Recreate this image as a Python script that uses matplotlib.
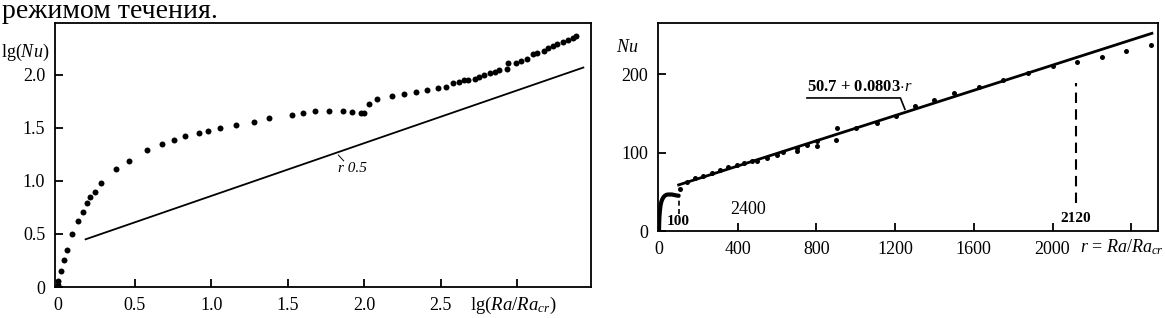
import numpy as np
import matplotlib
matplotlib.use('Agg')
import matplotlib.pyplot as plt

plt.rcParams['font.family'] = ['Liberation Serif', 'DejaVu Serif']
plt.rcParams['mathtext.fontset'] = 'custom'
plt.rcParams['mathtext.rm'] = 'Liberation Serif'
plt.rcParams['mathtext.it'] = 'Liberation Serif:italic'
plt.rcParams['mathtext.bf'] = 'Liberation Serif:bold'

# left panel: lg(Nu) vs lg(Ra/Ra_cr)
lg_r = [0, 0, 0.02, 0.04, 0.06, 0.09, 0.13, 0.16, 0.19, 0.21,
        0.24, 0.28, 0.38, 0.46, 0.58, 0.68, 0.76, 0.83, 0.92, 0.98,
        1.06, 1.16, 1.28, 1.38, 1.53, 1.60, 1.68, 1.77, 1.86, 1.92,
        1.98, 2.00, 2.03, 2.08, 2.18, 2.26, 2.34, 2.41, 2.48, 2.53,
        2.58, 2.62, 2.65, 2.68, 2.72, 2.75, 2.78, 2.82, 2.85, 2.88,
        2.93, 2.94, 2.99, 3.02, 3.06, 3.10, 3.13, 3.17, 3.20, 3.23,
        3.26, 3.30, 3.33, 3.36, 3.38]
lg_nu = [0.02, 0.06, 0.15, 0.25, 0.35, 0.50, 0.62, 0.71, 0.79, 0.85,
         0.90, 0.98, 1.11, 1.19, 1.29, 1.35, 1.39, 1.42, 1.45, 1.47,
         1.50, 1.53, 1.56, 1.59, 1.62, 1.64, 1.66, 1.66, 1.66, 1.65,
         1.64, 1.64, 1.73, 1.77, 1.80, 1.82, 1.84, 1.86, 1.88, 1.89,
         1.92, 1.93, 1.95, 1.95, 1.96, 1.98, 2.00, 2.02, 2.03, 2.05,
         2.06, 2.11, 2.11, 2.13, 2.15, 2.20, 2.21, 2.23, 2.25, 2.27,
         2.29, 2.31, 2.33, 2.35, 2.37]
sqrt_line_x = [0.18, 3.43]
sqrt_line_y = [0.45, 2.07]

# right panel: Nu vs r
r_low = [0, 1, 2, 4, 6, 9, 13, 18, 24, 30, 37, 45, 55, 65, 75, 85, 95, 100]
nu_low = [0, 10, 17, 24, 29, 34, 38, 41, 43.5, 45, 46, 46.5, 46.5, 46.5, 46, 45.5, 45, 45]
r_pts = [107, 144, 183, 225, 268, 310, 349, 395, 432, 471, 496, 547, 598, 629,
         700, 700, 750, 801, 801, 899, 903, 1001, 1106, 1204, 1301, 1399, 1499,
         1624, 1749, 1876, 2000, 2125, 2249, 2373, 2500]
nu_pts = [54, 63, 67, 70, 74, 78, 81, 84, 86, 89, 89, 93.5, 96.5, 100.6,
          102.5, 106, 109.5, 108, 114.6, 116, 131.6, 131.6, 138, 146.6, 159, 167, 175.4,
          184, 192.4, 201, 210, 215, 222, 229, 237]
fit_a, fit_b = 50.7, 0.0803
fit_r = [100, 2505]

fig = plt.figure(figsize=(11.65, 3.18), dpi=100)

fig.text(0.002, 1 - 18 / 318, 'режимом течения.', fontsize=20, va='baseline', ha='left')

# ---- left
ax1 = fig.add_axes([55 / 1165, 31 / 318, 536 / 1165, 264 / 318])
ax1.plot(lg_r, lg_nu, 'o', color='black', markersize=4.3, markeredgewidth=0)
ax1.plot(sqrt_line_x, sqrt_line_y, color='black', lw=1.3)
ax1.plot([1.83, 1.865], [1.245, 1.19], color='black', lw=0.7)
ax1.text(1.83, 1.12, 'r 0.5', style='italic', fontsize=11, va='center', ha='left')
ax1.set_xlim(-0.02, 3.48)
ax1.set_ylim(0, 2.49)
ax1.set_xticks([0, 0.5, 1.0, 1.5, 2.0, 2.5, 3.0])
ax1.set_xticklabels(['0', '0.5', '1.0', '1.5', '2.0', '2.5', ''])
ax1.set_yticks([0, 0.5, 1.0, 1.5, 2.0])
ax1.set_yticklabels(['0', '0.5', '1.0', '1.5', '2.0'])
ax1.tick_params(direction='in', length=6, width=1.3, labelsize=13, pad=7)
ax1.text(-0.1, 0.89, r'lg$(Nu)$', transform=ax1.transAxes, fontsize=13,
         ha='left', va='center')
ax1.text(0.775, -0.07, r'lg$(Ra/Ra_{cr})$', transform=ax1.transAxes, fontsize=13.5,
         ha='left', va='center')

# ---- right
ax2 = fig.add_axes([658 / 1165, 87 / 318, 500 / 1165, 208 / 318])
ax2.plot(r_low, nu_low, color='black', lw=3, solid_capstyle='round')
ax2.plot(r_pts, nu_pts, 'o', color='black', markersize=3.6, markeredgewidth=0)
ax2.plot(fit_r, [fit_a + fit_b * v for v in fit_r], color='black', lw=2)
ax2.plot([100, 100], [22, 43], color='black', lw=1.2, ls=(0, (3, 2)))
ax2.plot([2120, 2120], [36, 189], color='black', lw=1.5, ls=(0, (5, 3)))
ax2.text(100, 12, '100', fontweight='bold', fontsize=11, ha='center', va='center')
ax2.text(2120, 16, '2120', fontweight='bold', fontsize=11, ha='center', va='center')
ax2.text(452, 28, '2400', fontsize=13, ha='center', va='center')
ax2.plot([752, 1227, 1250], [169.5, 169.5, 155], color='black', lw=1.2)
ax2.text(752, 173, r'50.7 + 0.0803$\cdot r$', fontweight='bold', fontsize=12,
         ha='left', va='bottom')
ax2.set_xlim(-5, 2536)
ax2.set_ylim(0, 265)
ax2.set_xticks([0, 400, 800, 1200, 1600, 2000, 2400])
ax2.set_xticklabels(['0', '400', '800', '1200', '1600', '2000', ''])
ax2.set_yticks([0, 100, 200])
ax2.set_yticklabels(['0', '100', '200'])
ax2.tick_params(direction='in', length=6, width=1.3, labelsize=13, pad=7)
ax2.text(-0.04, 0.88, r'$Nu$', transform=ax2.transAxes, fontsize=13,
         ha='right', va='center')
ax2.text(0.845, -0.08, r'$r$ = $Ra/Ra_{cr}$', transform=ax2.transAxes, fontsize=13,
         ha='left', va='center')

for ax in (ax1, ax2):
    for s in ax.spines.values():
        s.set_linewidth(1.3)

fig.savefig('out.png', dpi=100)
